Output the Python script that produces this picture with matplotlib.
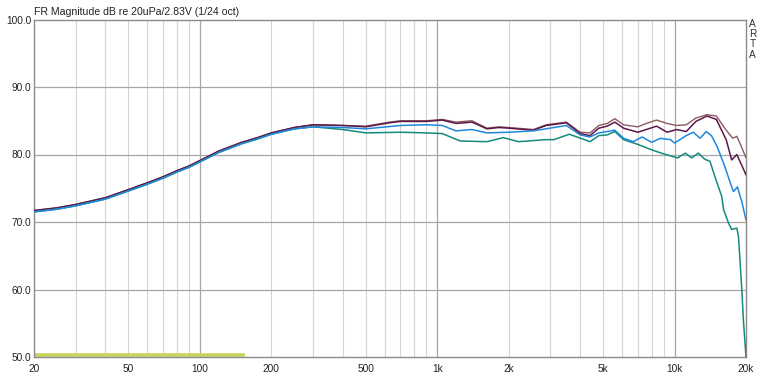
import matplotlib
matplotlib.use("Agg")
import matplotlib.pyplot as plt
from matplotlib.ticker import FixedLocator, NullFormatter

plt.rcParams['font.family'] = ['Liberation Sans', 'DejaVu Sans']

# ---------------- data (Hz, dB) ----------------
low_f = [20, 25, 30, 40, 50, 60, 70, 80, 90, 100, 120, 150, 175, 200, 250, 300, 400]
low_top = [71.7, 72.1, 72.6, 73.6, 74.8, 75.8, 76.7, 77.6, 78.3, 79.1, 80.5, 81.8, 82.5, 83.2, 84.0, 84.4, 84.3]
low_blue = [71.5, 71.9, 72.4, 73.4, 74.6, 75.6, 76.5, 77.4, 78.1, 78.9, 80.3, 81.6, 82.3, 83.0, 83.8, 84.1, 84.0]
low_teal = [71.5, 71.9, 72.4, 73.4, 74.6, 75.6, 76.5, 77.4, 78.1, 78.9, 80.3, 81.6, 82.3, 83.0, 83.8, 84.1, 83.7]

maroon_f = [500, 630, 700, 900, 1050, 1200, 1400, 1620, 1820, 2000, 2540, 2880, 3500, 4000, 4400, 4800,
            5200, 5600, 6100, 7000, 7600, 8400, 9300, 10200, 11200, 12300, 13700, 15000, 16500, 17400,
            18300, 20000]
maroon_db = [84.1, 84.7, 84.9, 84.9, 85.1, 84.6, 84.8, 83.8, 84.0, 83.9, 83.6, 84.3, 84.7, 83.1, 82.8, 83.9,
             84.2, 84.8, 83.9, 83.3, 83.7, 84.2, 83.3, 83.7, 83.4, 84.9, 85.7, 85.2, 82.2, 79.2,
             80.0, 77.0]

brown_f = [500, 630, 700, 900, 1050, 1200, 1400, 1620, 1820, 2000, 2540, 2880, 3500, 4000, 4400, 4800,
           5200, 5600, 6100, 7000, 7600, 8400, 9300, 10200, 11200, 12300, 13700, 15000, 16500, 17600,
           18300, 19000, 20000]
brown_db = [84.2, 84.8, 85.0, 85.0, 85.2, 84.8, 85.0, 83.9, 84.1, 84.0, 83.7, 84.4, 84.8, 83.3, 83.2, 84.3,
            84.6, 85.3, 84.4, 84.1, 84.6, 85.1, 84.6, 84.3, 84.4, 85.4, 85.9, 85.7, 83.6, 82.4,
            82.7, 81.4, 79.5]

blue_f = [500, 700, 900, 1050, 1200, 1400, 1620, 2000, 2540, 3500, 4000, 4400, 4800, 5600, 6100, 6700,
          7300, 8000, 8700, 9600, 10000, 11200, 12000, 12800, 13600, 14300, 15100, 16100, 17100, 17700,
          18400, 19200, 20000]
blue_db = [83.8, 84.3, 84.4, 84.3, 83.5, 83.7, 83.2, 83.3, 83.5, 84.3, 82.9, 82.6, 83.2, 83.6, 82.4, 81.9,
           82.6, 81.8, 82.4, 82.2, 81.7, 82.8, 83.3, 82.4, 83.4, 82.8, 81.2, 78.7, 76.0, 74.5,
           75.2, 73.0, 70.3]

teal_f = [500, 700, 900, 1050, 1250, 1620, 1900, 2200, 2880, 3100, 3600, 4100, 4400, 4800, 5200, 5600,
          6100, 7000, 8000, 8800, 9600, 10300, 11100, 11800, 12600, 13400, 14100, 14800, 15800, 16100,
          16900, 17400, 18300, 18600, 18900, 19200, 19500, 20000]
teal_db = [83.2, 83.3, 83.2, 83.1, 82.0, 81.9, 82.5, 81.9, 82.2, 82.2, 83.0, 82.3, 81.9, 82.8, 82.9, 83.4,
           82.2, 81.5, 80.7, 80.2, 79.8, 79.5, 80.2, 79.5, 80.2, 79.3, 79.0, 76.7, 73.8, 71.8,
           69.8, 68.9, 69.1, 67.8, 63.9, 60.0, 55.5, 50.0]

band_f = [20, 155]
band_db = [50.25, 50.25]

x_ticks = [20, 50, 100, 200, 500, 1000, 2000, 5000, 10000, 20000]
x_labels = ['20', '50', '100', '200', '500', '1k', '2k', '5k', '10k', '20k']
y_ticks = [50, 60, 70, 80, 90, 100]
y_labels = ['50.0', '60.0', '70.0', '80.0', '90.0', '100.0']
minor_f = [30, 40, 60, 70, 80, 90, 300, 400, 600, 700, 800, 900,
           3000, 4000, 6000, 7000, 8000, 9000]
minor_f2 = [50, 200, 500, 2000, 5000]
major_f = [100, 1000, 10000]

title = "FR Magnitude dB re 20uPa/2.83V (1/24 oct)"

# ---------------- figure ----------------
W, H = 767, 377
fig = plt.figure(figsize=(W / 100, H / 100), dpi=100)
fig.patch.set_facecolor('white')
ax = fig.add_axes([34 / W, (H - 357) / H, (746 - 34) / W, (357 - 19.5) / H])
ax.set_xscale('log')
ax.set_xlim(20, 20000)
ax.set_ylim(50, 100)

for f in minor_f + minor_f2:
    ax.axvline(f, color='#d4d4d4', lw=0.8, zorder=1)
for f in major_f:
    ax.axvline(f, color='#a6a6a6', lw=0.9, zorder=1)
for y in [60, 70, 80, 90]:
    ax.axhline(y, color='#a6a6a6', lw=0.9, zorder=1)

def cat(a, b):
    return list(a) + list(b)

ax.plot(cat(low_f, maroon_f), cat(low_top, maroon_db), color='#5c1848', lw=1.1, zorder=4)
ax.plot(cat(low_f, brown_f), cat(low_top, brown_db), color='#8c5a5e', lw=1.0, zorder=3)
ax.plot(cat(low_f, teal_f), cat(low_teal, teal_db), color='#138a7c', lw=1.1, zorder=5)
ax.plot(cat(low_f, blue_f), cat(low_blue, blue_db), color='#2088dc', lw=1.1, zorder=6)
ax.plot(band_f, band_db, color='#c9d35c', lw=2.6, solid_capstyle='butt', zorder=2)

for s in ax.spines.values():
    s.set_color('#8a8a8a')
    s.set_linewidth(1.0)

ax.xaxis.set_major_locator(FixedLocator(x_ticks))
ax.xaxis.set_minor_locator(FixedLocator([]))
ax.xaxis.set_minor_formatter(NullFormatter())
ax.set_xticks(x_ticks)
ax.set_xticklabels(x_labels)
ax.set_yticks(y_ticks)
ax.set_yticklabels(y_labels)
ax.tick_params(axis='both', length=0, labelsize=7.3, colors='#222222')
ax.tick_params(axis='x', pad=5)
ax.tick_params(axis='y', pad=2)

fig.text(34 / W, 1 - 12 / H, title, fontsize=7.6, color='#222222', va='center', ha='left')
for i, ch in enumerate("ARTA"):
    fig.text(752.5 / W, 1 - (24 + i * 10.2) / H, ch, fontsize=7.3, color='#333333',
             va='center', ha='center')

fig.savefig('out.png', dpi=100, facecolor='white')
